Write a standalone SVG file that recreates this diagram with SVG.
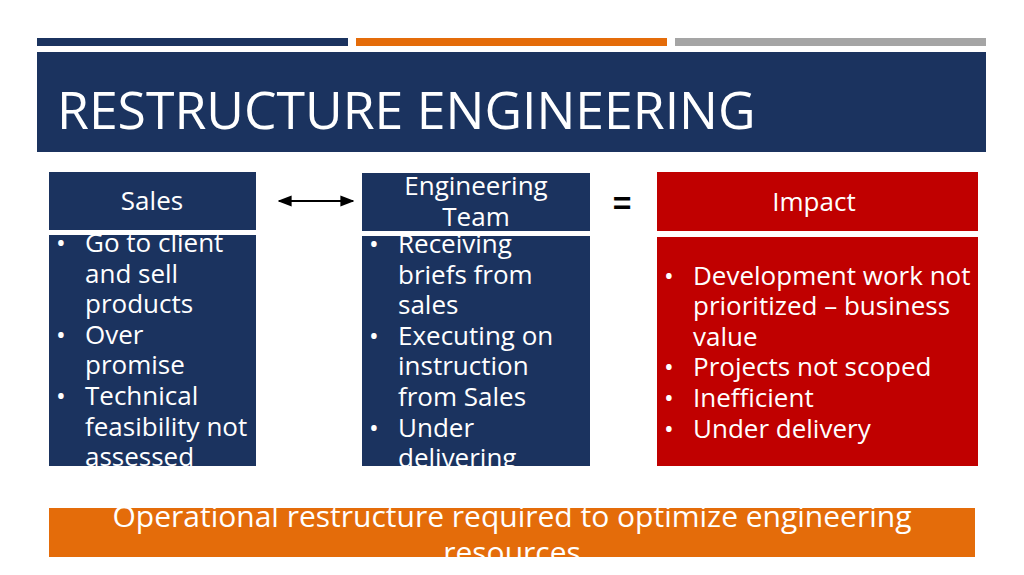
<svg xmlns="http://www.w3.org/2000/svg" width="1024" height="575" viewBox="0 0 1024 575">
<style>
.t{font-family:"Open Sans","Noto Sans",sans-serif;fill:#fff}
.b{font-size:26px}
.h{font-size:26px}
.navy{fill:#1b335f}
</style>
<defs>
<clipPath id="c1"><rect x="49" y="235" width="207" height="231"/></clipPath>
<clipPath id="c2"><rect x="362" y="236" width="228" height="230"/></clipPath>
<clipPath id="c4"><rect x="49" y="508" width="926" height="49"/></clipPath>
<marker id="ah" viewBox="0 0 10 10" refX="9" refY="5" markerWidth="7" markerHeight="7" orient="auto-start-reverse"><path d="M0,1 L10,5 L0,9 z" fill="#000"/></marker>
</defs>
<rect width="1024" height="575" fill="#fff"/>
<rect x="37" y="38" width="311" height="8" class="navy"/>
<rect x="356" y="38" width="311" height="8" fill="#e46c0a"/>
<rect x="675" y="38" width="311" height="8" fill="#a5a5a5"/>
<g id="title"><rect x="37" y="52" width="949" height="100" class="navy"/>
<text x="57" y="129" class="t" font-size="51.7">RESTRUCTURE ENGINEERING</text></g>
<g id="sales">
<rect x="49" y="172" width="207" height="58" class="navy"/>
<text x="152" y="210" class="t h" text-anchor="middle">Sales</text>
<rect x="49" y="235" width="207" height="231" class="navy"/>
<g clip-path="url(#c1)" class="t b">
<text x="56" y="252">•</text><text x="85" y="252">Go to client</text>
<text x="85" y="283">and sell</text><text x="85" y="313">products</text>
<text x="56" y="344">•</text><text x="85" y="344">Over</text>
<text x="85" y="374">promise</text>
<text x="56" y="405">•</text><text x="85" y="405">Technical</text>
<text x="85" y="436">feasibility not</text><text x="85" y="466">assessed</text>
</g></g>
<g id="eng">
<rect x="362" y="173" width="228" height="58" class="navy"/>
<text x="476" y="195" class="t h" text-anchor="middle">Engineering</text>
<text x="476" y="226" class="t h" text-anchor="middle">Team</text>
<rect x="362" y="236" width="228" height="230" class="navy"/>
<g clip-path="url(#c2)" class="t b">
<text x="369" y="253">•</text><text x="398" y="253">Receiving</text>
<text x="398" y="284">briefs from</text><text x="398" y="314">sales</text>
<text x="369" y="345">•</text><text x="398" y="345">Executing on</text>
<text x="398" y="375">instruction</text><text x="398" y="406">from Sales</text>
<text x="369" y="437">•</text><text x="398" y="437">Under</text>
<text x="398" y="467">delivering</text>
</g></g>
<g id="impact">
<rect x="657" y="172" width="321" height="59" fill="#c00000"/>
<text x="814" y="211" class="t h" text-anchor="middle">Impact</text>
<rect x="657" y="237" width="321" height="229" fill="#c00000"/>
<g class="t b">
<text x="664" y="285">•</text><text x="693" y="285">Development work not</text>
<text x="693" y="315">prioritized – business</text><text x="693" y="346">value</text>
<text x="664" y="376">•</text><text x="693" y="376">Projects not scoped</text>
<text x="664" y="407">•</text><text x="693" y="407">Inefficient</text>
<text x="664" y="438">•</text><text x="693" y="438">Under delivery</text>
</g></g>
<g id="connectors">
<line x1="279" y1="201" x2="353" y2="201" stroke="#000" stroke-width="2" marker-start="url(#ah)" marker-end="url(#ah)"/>
</g>
<text id="eq" x="622" y="214" font-family="Liberation Sans,sans-serif" font-size="32" font-weight="bold" text-anchor="middle">=</text>
<g id="footer">
<rect x="49" y="508" width="926" height="49" fill="#e46c0a"/>
<g clip-path="url(#c4)" class="t" font-size="30" text-anchor="middle">
<text x="512" y="527">Operational restructure required to optimize engineering</text>
<text x="512" y="563">resources</text></g></g>
</svg>
